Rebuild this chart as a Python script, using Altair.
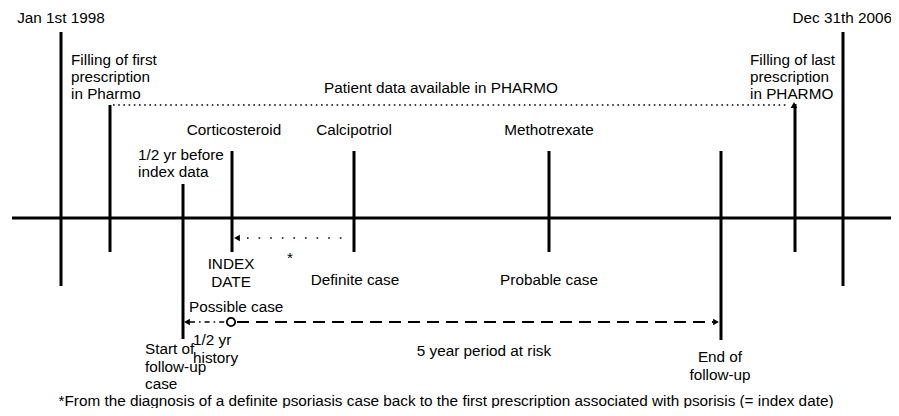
import altair as alt
import pandas as pd

FONT = "Liberation Sans"
FS = 15.3

# ---- timeline events (vertical markers) ----
event_names = ["Jan 1st 1998", "first fill", "start follow-up", "index date",
               "calcipotriol", "methotrexate", "end follow-up", "last fill", "Dec 31th 2006"]
event_x = [61, 110, 183, 232, 354, 549, 721, 795, 843]
event_top = [32, 105, 184, 151, 151, 151, 151, 104, 32]
event_bottom = [286, 252, 339, 252, 252, 252, 340, 252, 286]

# ---- main time axis ----
axis_x = [12, 893]
axis_y = [218, 218]

# ---- dotted "patient data available" span ----
avail_x = [113, 789]
avail_y = [105, 105]

# ---- dotted span definite case -> index date ----
back_x = [247, 345]
back_y = [238, 238]

# ---- half-year history (dash-dot) and 5-year risk (dashed) ----
hist_x = [190, 226]
hist_y = [322, 322]
risk_x = [237, 713]
risk_y = [322, 322]
circle_x = [231]
circle_y = [322]

# ---- arrowheads ----
arrow_shape = ["triangle-up", "triangle-left", "triangle-left", "triangle-right"]
arrow_x = [794, 237, 187, 716]
arrow_y = [105, 238, 322, 322]

# ---- labels ----
center_text = ["Jan 1st 1998", "Patient data available in PHARMO", "Corticosteroid",
               "Calcipotriol", "Methotrexate", "INDEX", "DATE", "Definite case",
               "Probable case", "*", "5 year period at risk", "End of", "follow-up"]
center_x = [61, 441, 234, 354, 549, 231, 231, 355, 549, 290, 484, 720, 720]
center_y = [18, 88, 130, 130, 130, 264, 282, 280, 280, 258, 351, 357, 375]

left_text = ["Filling of first", "prescription", "in Pharmo",
             "Filling of last", "prescription", "in PHARMO",
             "1/2 yr before", "index data", "Possible case",
             "1/2 yr", "history", "Start of", "follow-up", "case"]
left_x = [71, 71, 71, 750, 750, 750, 138, 138, 189, 193, 193, 145, 145, 145]
left_y = [60, 77, 94, 60, 77, 94, 155, 172, 307, 340, 358, 349, 367, 384]

right_text = ["Dec 31th 2006"]
right_x = [892]
right_y = [18]

footnote = ("*From the diagnosis of a definite psoriasis case back to the first "
            "prescription associated with psorisis (= index date)")
footnote_x = [446]
footnote_y = [405.5]

X = lambda f="x": alt.X(f + ":Q", scale=alt.Scale(domain=[8, 891], nice=False, zero=False), axis=None)
Y = lambda f="y": alt.Y(f + ":Q", scale=alt.Scale(domain=[8, 408], nice=False, zero=False, reverse=True), axis=None)

events = pd.DataFrame({"name": event_names, "x": event_x, "y": event_top, "y2": event_bottom})
vlines = alt.Chart(events).mark_rule(color="black", strokeWidth=3).encode(
    x=X(), y=Y(), y2="y2:Q")


def hline(xs, ys, **kw):
    df = pd.DataFrame({"x": [xs[0]], "x2": [xs[1]], "y": [ys[0]]})
    return alt.Chart(df).mark_rule(color="black", **kw).encode(x=X(), x2="x2:Q", y=Y())


main_axis = hline(axis_x, axis_y, strokeWidth=3)
avail = hline(avail_x, avail_y, strokeWidth=1.6, strokeDash=[1.6, 3.6])
back = hline(back_x, back_y, strokeWidth=1.6, strokeDash=[1.6, 10])
hist = hline(hist_x, hist_y, strokeWidth=1.6, strokeDash=[5, 4, 1.6, 4])
risk = hline(risk_x, risk_y, strokeWidth=2, strokeDash=[12, 7])

circ = alt.Chart(pd.DataFrame({"x": circle_x, "y": circle_y})).mark_point(
    shape="circle", size=70, filled=True, fill="white", stroke="black", strokeWidth=1.8, opacity=1
).encode(x=X(), y=Y())

arrows = alt.Chart(pd.DataFrame({"shape": arrow_shape, "x": arrow_x, "y": arrow_y})).mark_point(
    filled=True, color="black", size=45, opacity=1
).encode(x=X(), y=Y(), shape=alt.Shape("shape:N", scale=None, legend=None))


def texts(txt, xs, ys, align, baseline="middle"):
    df = pd.DataFrame({"t": txt, "x": xs, "y": ys})
    return alt.Chart(df).mark_text(align=align, baseline=baseline, font=FONT,
                                   fontSize=FS, color="black").encode(x=X(), y=Y(), text="t:N")


t_center = texts(center_text, center_x, center_y, "center")
t_left = texts(left_text, left_x, left_y, "left")
t_right = texts(right_text, right_x, right_y, "right")
t_foot = texts([footnote], footnote_x, footnote_y, "center", baseline="alphabetic")

chart = alt.layer(
    main_axis, vlines, avail, back, hist, risk, circ, arrows,
    t_center, t_left, t_right, t_foot
).properties(
    width=883, height=400, padding=0,
    autosize=alt.AutoSizeParams(type="none")
).configure_view(stroke=None)

chart.save("out.html", embed_options={"renderer": "svg", "actions": False})
